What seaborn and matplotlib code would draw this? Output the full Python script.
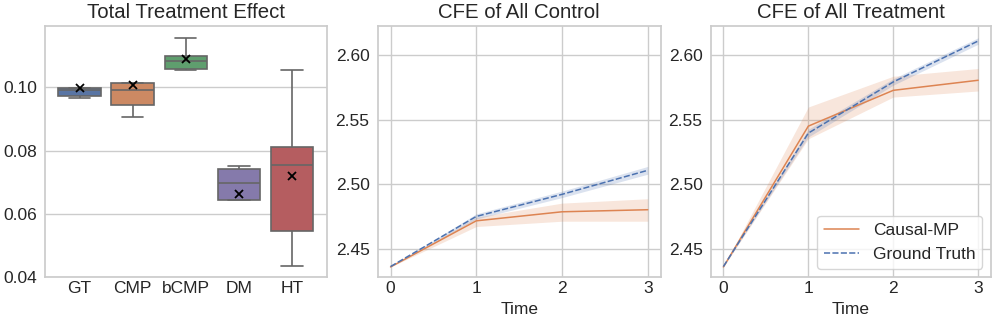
import matplotlib
matplotlib.use("Agg")
import matplotlib.pyplot as plt
import seaborn as sns
import pandas as pd

# =========================
# DATA
# =========================
methods = ["GT", "CMP", "bCMP", "DM", "HT"]
gt_runs = [0.0965, 0.0971, 0.0990, 0.0998, 0.1056]
cmp_runs = [0.0906, 0.0945, 0.0992, 0.1012, 0.1175]
bcmp_runs = [0.1055, 0.1057, 0.1082, 0.1099, 0.1156]
dm_runs = [0.0475, 0.0644, 0.0698, 0.0741, 0.0752]
ht_runs = [0.0435, 0.0547, 0.0755, 0.0812, 0.1053]

time = [0, 1, 2, 3]

# control
ctrl_mp = [2.436, 2.4717, 2.4787, 2.4803]
ctrl_mp_lo = [2.436, 2.4673, 2.4714, 2.4714]
ctrl_mp_hi = [2.436, 2.4745, 2.4854, 2.4888]
ctrl_gt = [2.4363, 2.4751, 2.4922, 2.5108]
ctrl_gt_lo = [2.4363, 2.4731, 2.4897, 2.5078]
ctrl_gt_hi = [2.4363, 2.4771, 2.4947, 2.5138]

# treatment
trt_mp = [2.436, 2.545, 2.5727, 2.5805]
trt_mp_lo = [2.436, 2.5352, 2.5675, 2.5722]
trt_mp_hi = [2.436, 2.5598, 2.5836, 2.5896]
trt_gt = [2.4363, 2.5396, 2.5792, 2.6109]
trt_gt_lo = [2.4363, 2.5366, 2.5767, 2.6084]
trt_gt_hi = [2.4363, 2.5426, 2.5817, 2.6134]

# =========================
# STYLE
# =========================
sns.set_theme(style="whitegrid")
plt.rcParams["font.family"] = ["Liberation Sans", "DejaVu Sans"]
plt.rcParams["xtick.labelsize"] = 12.5
plt.rcParams["ytick.labelsize"] = 12.5
plt.rcParams["xtick.major.size"] = 0
plt.rcParams["ytick.major.size"] = 0
plt.rcParams["xtick.major.pad"] = 3
plt.rcParams["ytick.major.pad"] = 5.8
plt.rcParams["axes.titlesize"] = 14.7
plt.rcParams["axes.titlepad"] = 5.5
plt.rcParams["axes.labelsize"] = 12.5
plt.rcParams["legend.fontsize"] = 12.5

deep = sns.color_palette("deep")
c_mp = deep[1]
c_gt = deep[0]
box_colors = [deep[0], deep[1], deep[2], deep[4], deep[3]]

fig = plt.figure(figsize=(9.97, 3.25), dpi=100)
ax1 = fig.add_axes([0.0451, 0.1468, 0.2825, 0.7732])
ax2 = fig.add_axes([0.3788, 0.1468, 0.2838, 0.7732])
ax3 = fig.add_axes([0.7128, 0.1468, 0.2811, 0.7732])

# =========================
# BOXPLOT
# =========================
runs = [gt_runs, cmp_runs, bcmp_runs, dm_runs, ht_runs]
box_df = pd.DataFrame({
    "method": [m for m, r in zip(methods, runs) for _ in r],
    "value": [v for r in runs for v in r],
})
sns.boxplot(
    data=box_df, x="method", y="value", hue="method", order=methods,
    palette=box_colors, showfliers=False, showmeans=True, legend=False,
    linecolor="0.4", linewidth=1.2,
    meanprops=dict(marker="x", markeredgecolor="black", markersize=6, markeredgewidth=1.3),
    ax=ax1,
)
ax1.set_xlim(-0.65, 4.65)
ax1.set_ylim(0.04, 0.1193)
ax1.set_yticks([0.04, 0.06, 0.08, 0.10])
ax1.set_xlabel("")
ax1.set_ylabel("")
ax1.set_title("Total Treatment Effect")

# =========================
# CFE LINES
# =========================
def cfe_panel(ax, mp, mp_lo, mp_hi, gt, gt_lo, gt_hi, title, legend):
    df = pd.DataFrame({
        "Time": time + time,
        "value": mp + gt,
        "method": ["Causal-MP"] * len(time) + ["Ground Truth"] * len(time),
    })
    sns.lineplot(
        data=df, x="Time", y="value", hue="method", style="method",
        palette={"Causal-MP": c_mp, "Ground Truth": c_gt},
        dashes={"Causal-MP": "", "Ground Truth": (4, 1.5)},
        linewidth=1.1, errorbar=None, legend=legend, ax=ax,
    )
    ax.fill_between(time, mp_lo, mp_hi, color=c_mp, alpha=0.2, lw=0)
    ax.fill_between(time, gt_lo, gt_hi, color=c_gt, alpha=0.2, lw=0)
    ax.set_ylim(2.428, 2.6225)
    ax.set_yticks([2.45, 2.50, 2.55, 2.60])
    ax.set_xticks(time)
    ax.set_ylabel("")
    ax.set_xlabel("Time", labelpad=4)
    ax.set_title(title)
    if legend:
        ax.legend(title=None, loc="lower right", handlelength=2.0)

cfe_panel(ax2, ctrl_mp, ctrl_mp_lo, ctrl_mp_hi, ctrl_gt, ctrl_gt_lo, ctrl_gt_hi,
          "CFE of All Control", False)
cfe_panel(ax3, trt_mp, trt_mp_lo, trt_mp_hi, trt_gt, trt_gt_lo, trt_gt_hi,
          "CFE of All Treatment", True)

plt.savefig("out.png", dpi=100)
